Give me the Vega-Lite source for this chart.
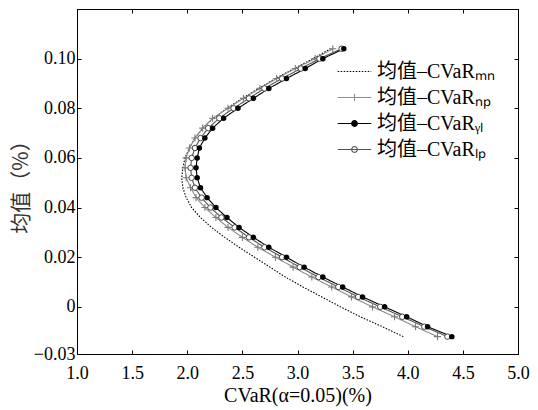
{
  "$schema": "https://vega.github.io/schema/vega-lite/v6.json",
  "width": 441,
  "height": 345,
  "autosize": "none",
  "padding": {"left": 77, "top": 9, "right": 20, "bottom": 56},
  "config": {
    "view": {"stroke": "black", "strokeWidth": 1},
    "font": "Liberation Serif",
    "axis": {"domainColor": "black", "tickColor": "black", "labelColor": "black", "titleColor": "black", "grid": false}
  },
  "data": {"values": [
    {"s":"MN","x":3.96,"y":-0.012},{"s":"MN","x":3.77,"y":-0.008},{"s":"MN","x":3.57,"y":-0.004},{"s":"MN","x":3.39,"y":0.000},{"s":"MN","x":3.22,"y":0.004},{"s":"MN","x":3.05,"y":0.008},{"s":"MN","x":2.89,"y":0.012},{"s":"MN","x":2.75,"y":0.016},{"s":"MN","x":2.61,"y":0.020},{"s":"MN","x":2.47,"y":0.024},{"s":"MN","x":2.34,"y":0.028},{"s":"MN","x":2.22,"y":0.032},{"s":"MN","x":2.12,"y":0.036},{"s":"MN","x":2.04,"y":0.040},{"s":"MN","x":1.99,"y":0.044},{"s":"MN","x":1.96,"y":0.048},{"s":"MN","x":1.95,"y":0.052},{"s":"MN","x":1.96,"y":0.056},{"s":"MN","x":1.98,"y":0.060},{"s":"MN","x":2.02,"y":0.064},{"s":"MN","x":2.07,"y":0.068},{"s":"MN","x":2.14,"y":0.072},{"s":"MN","x":2.24,"y":0.076},{"s":"MN","x":2.36,"y":0.080},{"s":"MN","x":2.50,"y":0.084},{"s":"MN","x":2.65,"y":0.088},{"s":"MN","x":2.80,"y":0.092},{"s":"MN","x":2.97,"y":0.096},{"s":"MN","x":3.14,"y":0.100},{"s":"MN","x":3.30,"y":0.104},
    {"s":"NP","x":4.27,"y":-0.012},{"s":"NP","x":4.07,"y":-0.008},{"s":"NP","x":3.88,"y":-0.004},{"s":"NP","x":3.68,"y":0.000},{"s":"NP","x":3.49,"y":0.004},{"s":"NP","x":3.31,"y":0.008},{"s":"NP","x":3.13,"y":0.012},{"s":"NP","x":2.96,"y":0.016},{"s":"NP","x":2.80,"y":0.020},{"s":"NP","x":2.64,"y":0.024},{"s":"NP","x":2.50,"y":0.028},{"s":"NP","x":2.37,"y":0.032},{"s":"NP","x":2.26,"y":0.036},{"s":"NP","x":2.16,"y":0.040},{"s":"NP","x":2.08,"y":0.044},{"s":"NP","x":2.03,"y":0.048},{"s":"NP","x":1.99,"y":0.052},{"s":"NP","x":1.98,"y":0.056},{"s":"NP","x":1.99,"y":0.060},{"s":"NP","x":2.02,"y":0.064},{"s":"NP","x":2.07,"y":0.068},{"s":"NP","x":2.14,"y":0.072},{"s":"NP","x":2.23,"y":0.076},{"s":"NP","x":2.37,"y":0.080},{"s":"NP","x":2.51,"y":0.084},{"s":"NP","x":2.66,"y":0.088},{"s":"NP","x":2.81,"y":0.092},{"s":"NP","x":2.98,"y":0.096},{"s":"NP","x":3.16,"y":0.100},{"s":"NP","x":3.32,"y":0.104},
    {"s":"LP","x":4.36,"y":-0.012},{"s":"LP","x":4.15,"y":-0.008},{"s":"LP","x":3.95,"y":-0.004},{"s":"LP","x":3.75,"y":0.000},{"s":"LP","x":3.55,"y":0.004},{"s":"LP","x":3.37,"y":0.008},{"s":"LP","x":3.19,"y":0.012},{"s":"LP","x":3.02,"y":0.016},{"s":"LP","x":2.86,"y":0.020},{"s":"LP","x":2.70,"y":0.024},{"s":"LP","x":2.56,"y":0.028},{"s":"LP","x":2.43,"y":0.032},{"s":"LP","x":2.31,"y":0.036},{"s":"LP","x":2.21,"y":0.040},{"s":"LP","x":2.13,"y":0.044},{"s":"LP","x":2.07,"y":0.048},{"s":"LP","x":2.04,"y":0.052},{"s":"LP","x":2.03,"y":0.056},{"s":"LP","x":2.04,"y":0.060},{"s":"LP","x":2.07,"y":0.064},{"s":"LP","x":2.12,"y":0.068},{"s":"LP","x":2.19,"y":0.072},{"s":"LP","x":2.29,"y":0.076},{"s":"LP","x":2.42,"y":0.080},{"s":"LP","x":2.56,"y":0.084},{"s":"LP","x":2.70,"y":0.088},{"s":"LP","x":2.86,"y":0.092},{"s":"LP","x":3.03,"y":0.096},{"s":"LP","x":3.20,"y":0.100},{"s":"LP","x":3.40,"y":0.104},
    {"s":"YL","x":4.40,"y":-0.012},{"s":"YL","x":4.18,"y":-0.008},{"s":"YL","x":3.99,"y":-0.004},{"s":"YL","x":3.79,"y":0.000},{"s":"YL","x":3.59,"y":0.004},{"s":"YL","x":3.41,"y":0.008},{"s":"YL","x":3.23,"y":0.012},{"s":"YL","x":3.06,"y":0.016},{"s":"YL","x":2.90,"y":0.020},{"s":"YL","x":2.74,"y":0.024},{"s":"YL","x":2.60,"y":0.028},{"s":"YL","x":2.47,"y":0.032},{"s":"YL","x":2.36,"y":0.036},{"s":"YL","x":2.26,"y":0.040},{"s":"YL","x":2.18,"y":0.044},{"s":"YL","x":2.12,"y":0.048},{"s":"YL","x":2.09,"y":0.052},{"s":"YL","x":2.08,"y":0.056},{"s":"YL","x":2.09,"y":0.060},{"s":"YL","x":2.11,"y":0.064},{"s":"YL","x":2.16,"y":0.068},{"s":"YL","x":2.23,"y":0.072},{"s":"YL","x":2.33,"y":0.076},{"s":"YL","x":2.46,"y":0.080},{"s":"YL","x":2.60,"y":0.084},{"s":"YL","x":2.74,"y":0.088},{"s":"YL","x":2.90,"y":0.092},{"s":"YL","x":3.07,"y":0.096},{"s":"YL","x":3.23,"y":0.100},{"s":"YL","x":3.42,"y":0.104}
  ]},
  "layer": [
    {
      "mark": {"type": "line", "strokeWidth": 1.1},
      "encoding": {
        "x": {"field": "x", "type": "quantitative", "scale": {"domain": [1, 5], "nice": false, "zero": false},
              "axis": {"values": [1, 1.5, 2, 2.5, 3, 3.5, 4, 4.5, 5], "format": ".1f", "labelFontSize": 18, "labelFont": "Liberation Serif", "tickSize": -4, "labelPadding": 14, "title": "CVaR(α=0.05)(%)", "titleFont": "Liberation Serif", "titleFontSize": 20, "titleFontWeight": "normal", "titlePadding": 3, "labelFlush": false}},
        "y": {"field": "y", "type": "quantitative", "scale": {"domain": [-0.019, 0.12], "nice": false, "zero": false},
              "axis": {"values": [-0.019, 0, 0.02, 0.04, 0.06, 0.08, 0.1], "labelExpr": "datum.value < -0.01 ? '−0.03' : datum.value == 0 ? '0' : format(datum.value, '.2f')", "labelFontSize": 18, "labelFont": "Liberation Serif", "tickSize": -4, "labelPadding": 6, "title": "均值（%）", "titleFont": "Noto Sans CJK SC", "titleFontSize": 21, "titleFontWeight": "normal", "titleColor": "#333333", "titlePadding": 2, "labelFlush": false}},
        "order": {"field": "y", "type": "quantitative"},
        "color": {"field": "s", "type": "nominal",
                  "scale": {"domain": ["MN", "NP", "YL", "LP"], "range": ["#000000", "#8c8c8c", "#000000", "#555555"]},
                  "legend": {"orient": "none", "legendX": 266, "legendY": 51, "title": null,
                             "labelFont": "Liberation Serif, Noto Sans CJK SC", "labelFontSize": 20, "labelColor": "black",
                             "symbolSize": 441, "labelOffset": 11, "rowPadding": 4, "padding": 0,
                             "labelExpr": "datum.label == 'MN' ? '均值–CVaRₘₙ' : datum.label == 'NP' ? '均值–CVaRₙₚ' : datum.label == 'YL' ? '均值–CVaRᵧₗ' : '均值–CVaRₗₚ'",
                             "encode": {"symbols": {"update": {
                               "shape": {"signal": "datum.value == 'MN' ? 'M-1.6,0H1.6' : datum.value == 'NP' ? 'M-1.6,0H1.6M-0.36,0H0.36M0,-0.36V0.36' : 'M-1.6,0H1.6M0.27,0A0.27,0.27,0,1,1,-0.27,0A0.27,0.27,0,1,1,0.27,0Z'"},
                               "fill": {"signal": "datum.value == 'YL' ? 'black' : datum.value == 'LP' ? 'white' : 'transparent'"},
                               "stroke": {"signal": "datum.value == 'NP' ? '#8c8c8c' : datum.value == 'LP' ? '#555555' : 'black'"},
                               "strokeDash": {"signal": "datum.value == 'MN' ? [1.5, 1.5] : [1, 0]"},
                               "strokeWidth": {"value": 1.1},
                               "opacity": {"value": 1}
                             }}}}},
        "strokeDash": {"field": "s", "type": "nominal",
                       "scale": {"domain": ["MN", "NP", "YL", "LP"], "range": [[1.5, 1.5], [1, 0], [1, 0], [1, 0]]},
                       "legend": null}
      }
    },
    {
      "transform": [{"filter": "datum.s == 'NP'"}],
      "mark": {"type": "point", "shape": "M-1,0H1M0,-1V1", "filled": false, "stroke": "#7a7a7a", "strokeWidth": 1.1, "size": 50, "opacity": 1},
      "encoding": {
        "x": {"field": "x", "type": "quantitative", "axis": null},
        "y": {"field": "y", "type": "quantitative", "axis": null}
      }
    },
    {
      "transform": [{"filter": "datum.s == 'LP'"}],
      "mark": {"type": "point", "shape": "circle", "filled": false, "fill": "white", "fillOpacity": 1, "stroke": "#444444", "strokeWidth": 1, "size": 30, "opacity": 1},
      "encoding": {
        "x": {"field": "x", "type": "quantitative", "axis": null},
        "y": {"field": "y", "type": "quantitative", "axis": null}
      }
    },
    {
      "transform": [{"filter": "datum.s == 'YL'"}],
      "mark": {"type": "point", "shape": "circle", "filled": true, "color": "black", "size": 30, "opacity": 1},
      "encoding": {
        "x": {"field": "x", "type": "quantitative", "axis": null},
        "y": {"field": "y", "type": "quantitative", "axis": null}
      }
    },
    {
      "mark": {"type": "point", "opacity": 0},
      "encoding": {
        "x": {"field": "x", "type": "quantitative", "axis": {"orient": "top", "values": [1, 1.5, 2, 2.5, 3, 3.5, 4, 4.5, 5], "labels": false, "title": null, "tickSize": -4}},
        "y": {"field": "y", "type": "quantitative", "axis": {"orient": "right", "values": [0, 0.02, 0.04, 0.06, 0.08, 0.1], "labels": false, "title": null, "tickSize": -4}}
      }
    }
  ],
  "resolve": {"axis": {"x": "independent", "y": "independent"}}
}
